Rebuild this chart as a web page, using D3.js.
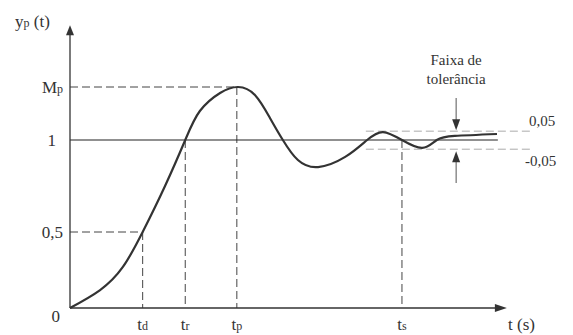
<!DOCTYPE html>
<html>
<head>
<meta charset="utf-8">
<script src="https://cdn.jsdelivr.net/npm/d3@7"></script>
<style>
  body { margin: 0; background: #fff; }
  svg { display: block; }
  text { font-family: "Liberation Serif", "Times New Roman", Times, "DejaVu Serif", "Noto Serif", serif; fill: #333; }
</style>
</head>
<body>
<svg id="chart"></svg>
<script>
// chart data
const timeValues = [0, 0.70, 1.23, 1.69, 2.21, 2.68, 3.02, 3.49, 3.91, 4.30, 4.65, 4.95, 5.30, 5.77, 6.40, 6.91, 7.28, 7.72, 8.19, 8.53, 8.95, 9.93]
const responseValues = [0, 0.118, 0.270, 0.5, 0.75, 1.0, 1.164, 1.266, 1.3, 1.255, 1.125, 1.0, 0.891, 0.853, 0.908, 1.0, 1.045, 1.0, 0.957, 1.0, 1.023, 1.034]

const yLevels = [0, 0.5, 1, 1.3]
const yLabelMain = ["0", "0,5", "1", "M"]
const yLabelSub = ["", "", "", "p"]

const timeMarks = [1.69, 2.68, 3.88, 7.72]
const timeMarkLevels = [0.5, 1, 1.3, 1]
const timeMarkSub = ["d", "r", "p", "s"]

const finalValue = 1
const tolerance = 0.05
const toleranceLabels = ["0,05", "-0,05"]
const bandStart = 6.88
const bandEnd = 10.75
const arrowTime = 8.98
const tMax = 10.16
const yMax = 1.65

// basic parameters
const svgWidth = 573
const svgHeight = 335
const serif = "'Liberation Serif', 'Times New Roman', Times, 'DejaVu Serif', serif"

var svg = d3.select("#chart")
  .attr("width", svgWidth)
  .attr("height", svgHeight)

// schematic y scale (not to scale, piecewise like the drawing)
var xScale = d3.scaleLinear().domain([0, 10]).range([70, 500])
var yScale = d3.scaleLinear()
  .domain([0, 0.5, 1, 1.3])
  .range([308, 232, 140, 87])

const ink = "#333"
const dash = "8,4"

// guide dashed lines
yLevels.forEach((v, i) => {
  if (v === 0 || v === 1) return
  const tEnd = timeMarks[timeMarkLevels.indexOf(v)]
  svg.append("line")
    .attr("x1", xScale(0)).attr("x2", xScale(tEnd))
    .attr("y1", yScale(v)).attr("y2", yScale(v))
    .attr("stroke", "#444").attr("stroke-width", 1)
    .attr("stroke-dasharray", dash)
})

timeMarks.forEach((t, i) => {
  svg.append("line")
    .attr("x1", xScale(t)).attr("x2", xScale(t))
    .attr("y1", yScale(timeMarkLevels[i])).attr("y2", yScale(0))
    .attr("stroke", "#444").attr("stroke-width", 1)
    .attr("stroke-dasharray", dash)
})

// tolerance band
;[finalValue + tolerance, finalValue - tolerance].forEach(v => {
  svg.append("line")
    .attr("x1", xScale(bandStart)).attr("x2", xScale(bandEnd))
    .attr("y1", yScale(v)).attr("y2", yScale(v))
    .attr("stroke", "#aaa").attr("stroke-width", 1)
    .attr("stroke-dasharray", dash)
})

// final value line
svg.append("line")
  .attr("x1", xScale(0)).attr("x2", xScale(9.95))
  .attr("y1", yScale(finalValue)).attr("y2", yScale(finalValue))
  .attr("stroke", "#222").attr("stroke-width", 1.2)

// axes with arrows
svg.append("line")
  .attr("x1", xScale(0)).attr("x2", xScale(0))
  .attr("y1", yScale(0)).attr("y2", yScale(yMax) + 4)
  .attr("stroke", ink).attr("stroke-width", 1.3)
svg.append("path")
  .attr("d", `M${xScale(0)},${yScale(yMax)} l-4,10 l8,0 z`)
  .attr("fill", ink)

svg.append("line")
  .attr("x1", xScale(0)).attr("x2", xScale(tMax) - 4)
  .attr("y1", yScale(0)).attr("y2", yScale(0))
  .attr("stroke", ink).attr("stroke-width", 1.3)
svg.append("path")
  .attr("d", `M${xScale(tMax)},${yScale(0)} l-12,-4 l0,8 z`)
  .attr("fill", ink)

// tolerance arrows
const ax = xScale(arrowTime)
svg.append("line")
  .attr("x1", ax).attr("x2", ax)
  .attr("y1", 98).attr("y2", yScale(finalValue + tolerance) - 6)
  .attr("stroke", "#555").attr("stroke-width", 1)
svg.append("path")
  .attr("d", `M${ax},${yScale(finalValue + tolerance) - 1} l-4,-11 l8,0 z`)
  .attr("fill", ink)
svg.append("line")
  .attr("x1", ax).attr("x2", ax)
  .attr("y1", yScale(finalValue - tolerance) + 6).attr("y2", 183)
  .attr("stroke", "#555").attr("stroke-width", 1)
svg.append("path")
  .attr("d", `M${ax},${yScale(finalValue - tolerance) + 2} l-4,11 l8,0 z`)
  .attr("fill", ink)

// response curve
const points = timeValues.map((t, i) => [t, responseValues[i]])
var line = d3.line()
  .x(d => xScale(d[0]))
  .y(d => yScale(d[1]))
  .curve(d3.curveNatural)

svg.append("path")
  .datum(points)
  .attr("d", line)
  .attr("fill", "none")
  .attr("stroke", "#333")
  .attr("stroke-width", 2.2)

// labels with small "subscript" letters
function label(x, y, main, sub, anchor, size, after) {
  const t = svg.append("text")
    .attr("x", x).attr("y", y)
    .attr("text-anchor", anchor)
    .attr("font-family", serif)
    .style("font-size", size + "px")
  t.append("tspan").text(main)
  if (sub) t.append("tspan").style("font-size", Math.round(size * 0.72) + "px").text(sub)
  if (after) t.append("tspan").text(after)
  return t
}

const yLabelX = [60, 63, 56, 63]
const yLabelDy = [14, 6, 6, 6]
yLevels.forEach((v, i) => {
  label(yLabelX[i], yScale(v) + yLabelDy[i], yLabelMain[i], yLabelSub[i], "end", 17)
})

timeMarks.forEach((t, i) => {
  label(xScale(t), 330, "t", timeMarkSub[i], "middle", 17)
})

label(15, 27, "y", "p", "start", 17, " (t)")
label(508, 330, "t (s)", "", "start", 17)

svg.append("text")
  .attr("x", ax).attr("y", 65)
  .attr("text-anchor", "middle")
  .attr("font-family", serif)
  .style("font-size", "15px")
  .text("Faixa de")
svg.append("text")
  .attr("x", ax).attr("y", 84)
  .attr("text-anchor", "middle")
  .attr("font-family", serif)
  .style("font-size", "15px")
  .text("tolerância")

svg.append("text")
  .attr("x", 529).attr("y", 126)
  .attr("font-family", serif)
  .style("font-size", "15px")
  .text(toleranceLabels[0])
svg.append("text")
  .attr("x", 525).attr("y", 166)
  .attr("font-family", serif)
  .style("font-size", "15px")
  .text(toleranceLabels[1])
</script>
</body>
</html>
